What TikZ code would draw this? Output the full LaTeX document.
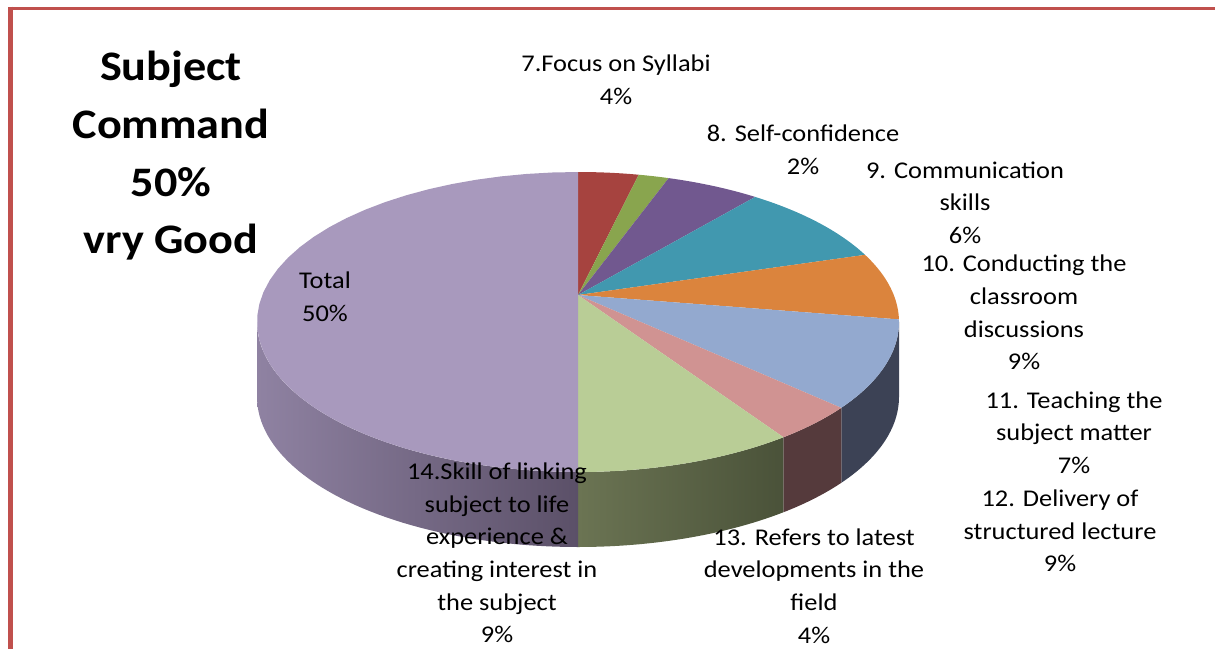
\documentclass[tikz,border=0pt]{standalone}
\usepackage{fontspec}
\setmainfont{Carlito}[FakeStretch=1.1]

\definecolor{frame}{HTML}{C0504D}
\definecolor{cRed}{HTML}{A6433F}
\definecolor{cGreen}{HTML}{89A54E}
\definecolor{cPurple}{HTML}{71588F}
\definecolor{cAqua}{HTML}{4198AF}
\definecolor{cOrange}{HTML}{DB843D}
\definecolor{cBlue}{HTML}{93A9CF}
\definecolor{cPink}{HTML}{D09392}
\definecolor{cLime}{HTML}{B9CD96}
\definecolor{cTotal}{HTML}{A899BD}
\definecolor{sBlue}{HTML}{3C4255}
\definecolor{sPink}{HTML}{553A3C}
\definecolor{sLimeL}{HTML}{6B7453}
\definecolor{sLimeR}{HTML}{4A5239}
\definecolor{sTotalL}{HTML}{8F82A2}
\definecolor{sTotalR}{HTML}{5B5068}

\begin{document}
\begin{tikzpicture}[x=1pt,y=-1pt,
  lbl/.style={font=\fontsize{24}{32.7}\selectfont, align=center, inner sep=0pt},
  headline/.style={font=\bfseries\fontsize{42}{57.7}\selectfont, align=center, inner sep=0pt}]
\useasboundingbox (0,0) rectangle (1215,649);
\def\cx{578} \def\cy{322} \def\rx{321} \def\ry{150} \def\dz{75}

% frame
\draw[frame, line width=3pt] (9,8) -- (1215,8);
\draw[frame, line width=4.5pt] (10.5,6.5) -- (10.5,649);

% side of the pie
\fill[sBlue] plot[domain=0:34.9, samples=30] ({\cx+\rx*cos(\x)},{\cy+\ry*sin(\x)})
  -- plot[domain=34.9:0, samples=30] ({\cx+\rx*cos(\x)},{\cy+\dz+\ry*sin(\x)}) -- cycle;
\fill[sPink] plot[domain=34.9:50.2, samples=20] ({\cx+\rx*cos(\x)},{\cy+\ry*sin(\x)})
  -- plot[domain=50.2:34.9, samples=20] ({\cx+\rx*cos(\x)},{\cy+\dz+\ry*sin(\x)}) -- cycle;
\shade[left color=sLimeL, right color=sLimeR]
  plot[domain=50.2:90, samples=30] ({\cx+\rx*cos(\x)},{\cy+\ry*sin(\x)})
  -- plot[domain=90:50.2, samples=30] ({\cx+\rx*cos(\x)},{\cy+\dz+\ry*sin(\x)}) -- cycle;
\shade[left color=sTotalL, right color=sTotalR]
  plot[domain=90:180, samples=50] ({\cx+\rx*cos(\x)},{\cy+\ry*sin(\x)})
  -- plot[domain=180:90, samples=50] ({\cx+\rx*cos(\x)},{\cy+\dz+\ry*sin(\x)}) -- cycle;

% top of the pie
\coordinate (apex) at (578,295);
\foreach \a/\b/\c in {-90/-79.1/cRed, -79.1/-73.6/cGreen, -73.6/-56.5/cPurple,
  -56.5/-26.6/cAqua, -26.6/-1/cOrange, -1/34.9/cBlue, 34.9/50.2/cPink,
  50.2/90/cLime, 90/270/cTotal}
  \fill[\c] (apex) -- plot[domain=\a:\b, samples=40] ({\cx+\rx*cos(\x)},{\cy+\ry*sin(\x)}) -- cycle;

% title
\node (title) [headline] at (171,156) {Subject\\Command\\50\%\\vry Good};

% slice labels
\node (lbl_7) [lbl] at (616,79.5) {7.Focus on Syllabi\\4\%};
\node (lbl_8) [lbl] at (803,149.5) {8. Self-confidence\\2\%};
\node (lbl_9) [lbl] at (965,202.5) {9. Communication\\skills\\6\%};
\node (lbl_10) [lbl] at (1024,312.5) {10. Conducting the\\classroom\\discussions\\9\%};
\node (lbl_11) [lbl] at (1074,432.5) {11. Teaching the\\subject matter\\7\%};
\node (lbl_12) [lbl] at (1060,531) {12. Delivery of\\structured lecture\\9\%};
\node (lbl_13) [lbl] at (814,586) {13. Refers to latest\\developments in the\\field\\4\%};
\node (lbl_14) [lbl] at (497,553) {14.Skill of linking\\subject to life\\experience \&\\creating interest in\\the subject\\9\%};
\node (total) [lbl] at (325,296.5) {Total\\50\%};
\end{tikzpicture}
\end{document}
